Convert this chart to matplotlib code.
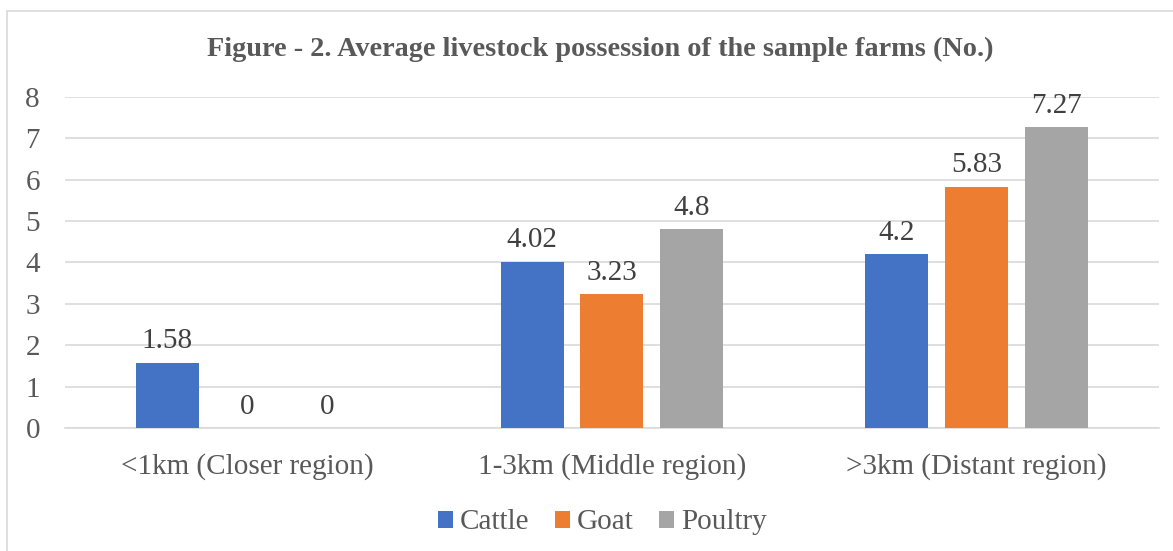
import numpy as np
import matplotlib
matplotlib.use("Agg")
import matplotlib.pyplot as plt
from matplotlib.patches import Rectangle

# data
categories = ["<1km (Closer region)", "1-3km (Middle region)", ">3km (Distant region)"]
series = ["Cattle", "Goat", "Poultry"]
cattle = [1.58, 4.02, 4.2]
goat = [0, 3.23, 5.83]
poultry = [0, 4.8, 7.27]
colors = ["#4472C4", "#ED7D31", "#A5A5A5"]
title = "Figure - 2. Average livestock possession of the sample farms (No.)"

plt.rcParams['font.family'] = ['Liberation Serif', 'DejaVu Serif']
txt = "#595959"

fig = plt.figure(figsize=(11.73, 5.51), dpi=100)
ax = fig.add_axes([0.0554, 0.2232, 0.9326, 0.6008])

# outer chart border (cut off at right and bottom like the reference)
fig.patches.append(Rectangle((0.006, -0.1), 1.2, 1.08, transform=fig.transFigure,
                             fill=False, edgecolor="#D9D9D9", linewidth=1.2))

x = np.arange(len(categories))
step = 0.219
width = 0.173
for i, (name, vals) in enumerate(zip(series, [cattle, goat, poultry])):
    pos = x + (i - 1) * step
    bars = ax.bar(pos, vals, width, color=colors[i], label=name, zorder=3)
    for b, v in zip(bars, vals):
        ax.text(b.get_x() + b.get_width() / 2, v + 0.2, f"{v:g}",
                ha="center", va="bottom", fontsize=21, color="#404040")

ax.set_xlim(-0.5, 2.5)
ax.set_ylim(0, 8)
ax.set_yticks(range(0, 9))
ax.yaxis.grid(True, color="#D9D9D9", linewidth=1.2, zorder=0)
ax.set_axisbelow(True)
for s in ["top", "right", "left"]:
    ax.spines[s].set_visible(False)
ax.spines["bottom"].set_color("#D9D9D9")
ax.spines["bottom"].set_linewidth(1.2)
ax.tick_params(axis="both", length=0, labelsize=21, colors=txt)
ax.tick_params(axis="y", pad=18)
ax.tick_params(axis="x", pad=18)
ax.set_xticks(x)
ax.set_xticklabels(categories)

fig.text(0.512, 0.91, title, ha="center", va="center", fontsize=20.3,
         fontweight="bold", color=txt)

leg = fig.legend(loc="center", bbox_to_anchor=(0.5136, 0.052), ncol=3, frameon=False,
                 fontsize=21, handlelength=0.52, handleheight=0.52, handletextpad=0.25,
                 columnspacing=0.86)
for t in leg.get_texts():
    t.set_color(txt)

fig.savefig("out.png", dpi=100)
